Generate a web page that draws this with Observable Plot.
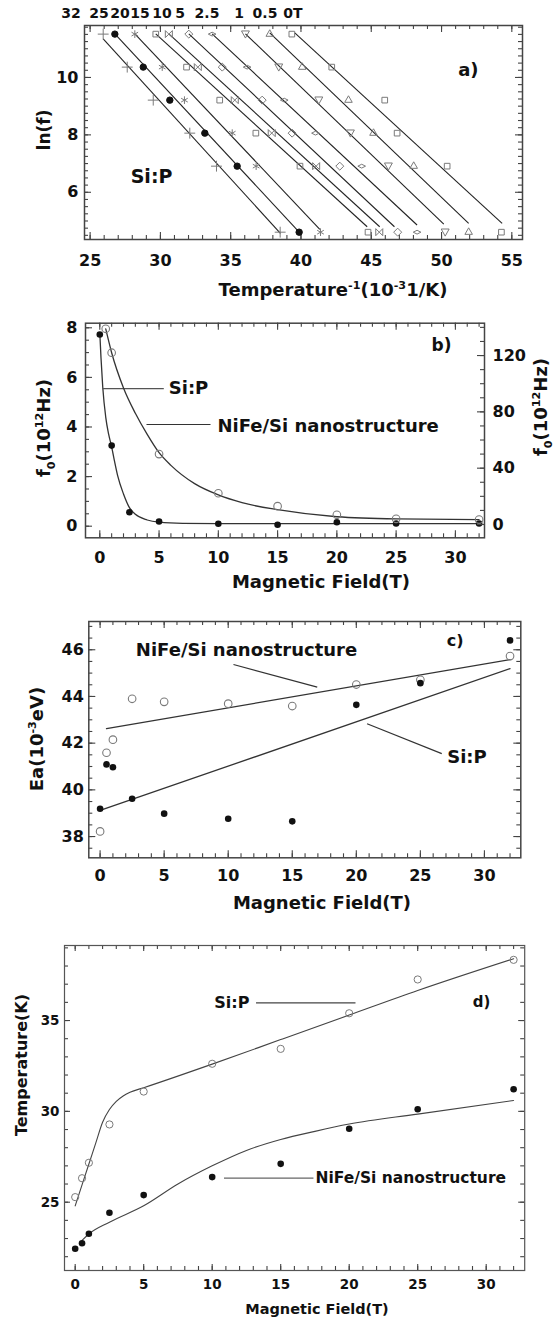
<!DOCTYPE html>
<html><head><meta charset="utf-8">
<script src="https://cdn.jsdelivr.net/npm/d3@7"></script>
<script src="https://cdn.jsdelivr.net/npm/@observablehq/plot@0.6"></script>
<style>
html,body{margin:0;padding:0;background:#fff;}
#fig{position:relative;width:555px;height:1322px;overflow:hidden;background:#fff;font-family:'DejaVu Sans',sans-serif;font-weight:bold;color:#111;}
#fig svg{position:absolute;left:0;}
.lbl{position:absolute;white-space:nowrap;transform:translate(-50%,-50%);line-height:1;}
.rot{transform:translate(-50%,-50%) rotate(-90deg);}
sup,sub{font-size:0.62em;line-height:0;}
</style></head><body><div id="fig"></div><script>
// ---------------- DATA ----------------
// Panel a) : ln(f) vs 1/T for each magnetic field
const fieldsA = ["32","25","20","15","10","5","2.5","1","0.5","0T"];
const lnF = [11.51, 10.36, 9.21, 8.06, 6.91, 4.61];
const invT_32  = [25.93, 27.64, 29.49, 32.09, 33.99, 38.52];
const invT_25  = [26.76, 28.78, 30.67, 33.16, 35.46, 39.87];
const invT_20  = [28.18, 30.13, 31.71, 35.11, 36.81, 41.39];
const invT_15  = [29.67, 31.86, 34.22, 36.79, 39.93, 44.77];
const invT_10  = [30.60, 32.66, 35.29, 37.92, 41.08, 45.57];
const invT_5   = [32.02, 34.40, 37.24, 39.37, 42.76, 46.88];
const invT_2p5 = [33.68, 36.17, 38.81, 41.03, 44.32, 48.26];
const invT_1   = [36.05, 38.42, 41.27, 43.52, 46.22, 50.26];
const invT_0p5 = [37.78, 40.09, 43.38, 45.16, 48.02, 51.93];
const invT_0   = [39.35, 42.19, 45.96, 46.84, 50.40, 54.26];
// fitted straight lines (top end / bottom end)
const fitA_x1 = [25.93, 26.76, 28.18, 29.67, 30.60, 32.02, 33.68, 36.05, 37.78, 39.56];
const fitA_y1 = [11.34, 11.52, 11.52, 11.52, 11.52, 11.52, 11.52, 11.52, 11.55, 11.55];
const fitA_x2 = [38.54, 39.84, 41.34, 44.71, 45.60, 46.65, 48.26, 50.16, 51.93, 54.31];
const fitA_y2 = [4.57, 4.63, 4.71, 4.80, 4.80, 4.80, 4.86, 4.89, 4.92, 4.92];
const axisA_x = [25, 30, 35, 40, 45, 50, 55];
const axisA_y = [6, 8, 10];

// Panel b) : f0 vs magnetic field
const fieldB_SiP = [0, 1, 2.5, 5, 10, 15, 20, 25, 32];
const f0_SiP     = [7.73, 3.25, 0.56, 0.19, 0.10, 0.06, 0.16, 0.11, 0.11];
const fieldB_NiFe = [0.5, 1, 5, 10, 15, 20, 25, 32];
const f0_NiFe     = [139, 122, 50, 22.2, 13, 6.9, 4.0, 3.5];
const curveB_SiP_x = [0, 0.1, 0.25, 0.5, 0.75, 1, 1.25, 1.5, 2, 2.5, 3, 4, 5, 7, 10, 32];
const curveB_SiP_y = [7.8, 6.8, 5.6, 4.4, 3.7, 3.2, 2.6, 2.05, 1.3, 0.75, 0.48, 0.25, 0.16, 0.11, 0.10, 0.10];
const curveB_NiFe_x = [0.5, 1, 2, 3, 4, 5, 6, 8, 10, 12, 15, 20, 25, 32];
const curveB_NiFe_y = [139, 122, 97, 79, 64, 51, 42, 29, 21, 15.5, 10.5, 5.5, 4.0, 3.5];
const axisB_x = [0, 5, 10, 15, 20, 25, 30];
const axisB_yLeft = [0, 2, 4, 6, 8];
const axisB_yRight = [0, 40, 80, 120];

// Panel c) : activation energy vs magnetic field
const fieldC = [0, 0.5, 1, 2.5, 5, 10, 15, 20, 25, 32];
const Ea_NiFe = [38.22, 41.59, 42.15, 43.90, 43.77, 43.69, 43.59, 44.51, 44.71, 45.73];
const Ea_SiP  = [39.19, 41.09, 40.97, 39.62, 38.98, 38.76, 38.65, 43.64, 44.57, 46.40];
const fitC_NiFe_x = [0.5, 32], fitC_NiFe_y = [42.62, 45.58];
const fitC_SiP_x  = [0, 32],   fitC_SiP_y  = [39.12, 45.19];
const axisC_x = [0, 5, 10, 15, 20, 25, 30];
const axisC_y = [38, 40, 42, 44, 46];

// Panel d) : temperature vs magnetic field
const fieldD = [0, 0.5, 1, 2.5, 5, 10, 15, 20, 25, 32];
const T_SiP  = [25.28, 26.32, 27.17, 29.28, 31.09, 32.62, 33.44, 35.40, 37.26, 38.34];
const T_NiFe = [22.44, 22.74, 23.26, 24.42, 25.39, 26.38, 27.11, 29.04, 30.12, 31.22];
const curveD_SiP_x = [0, 0.5, 1, 1.5, 2, 2.5, 3, 3.5, 4, 5, 10, 15, 20, 25, 32];
const curveD_SiP_y = [24.8, 25.95, 27.1, 28.25, 29.4, 30.1, 30.55, 30.85, 31.05, 31.3, 32.6, 33.95, 35.3, 36.65, 38.4];
const curveD_NiFe_x = [0.5, 1, 2.5, 5, 7.5, 10, 12.5, 15, 17.5, 20, 25, 32];
const curveD_NiFe_y = [22.9, 23.25, 23.9, 24.8, 26.0, 27.0, 27.85, 28.45, 28.9, 29.3, 29.85, 30.6];
const axisD_x = [0, 5, 10, 15, 20, 25, 30];
const axisD_y = [25, 30, 35];

// ---------------- HELPERS ----------------
const fig = document.getElementById("fig");
const zip = (xs, ys) => xs.map((x, i) => ({x, y: ys[i]}));
const rng = (a, b, s) => d3.range(a, b + s / 2, s);
const FONT = "'DejaVu Sans', sans-serif";
const DARK = "#333", GREY = "#7a7a7a";

function ticks({xMaj, xMin, yMaj, yMin, W, H, left = true, right = true, xAxis = true, maj = 7, mn = 4}) {
  const s = {stroke: "#444", strokeWidth: 1.1};
  const m = [];
  if (xAxis) for (const [v, L] of [[xMaj, maj], [xMin, mn]]) {
    m.push(Plot.tickX(v, {x: d => d, insetTop: H - L, ...s}));
    m.push(Plot.tickX(v, {x: d => d, insetBottom: H - L, ...s}));
  }
  for (const [v, L] of [[yMaj, maj], [yMin, mn]]) {
    if (left) m.push(Plot.tickY(v, {y: d => d, insetRight: W - L, ...s}));
    if (right) m.push(Plot.tickY(v, {y: d => d, insetLeft: W - L, ...s}));
  }
  return m;
}
function place(svg, top) { svg.style.top = top + "px"; fig.appendChild(svg); }
function label(html, x, y, size, rot = false) {
  const d = document.createElement("div");
  d.className = "lbl" + (rot ? " rot" : "");
  d.style.left = x + "px"; d.style.top = y + "px"; d.style.fontSize = size + "px";
  d.innerHTML = html; fig.appendChild(d);
}
const txt = (t, x, y, size, anchor = "middle") =>
  Plot.text([t], {x: () => x, y: () => y, text: d => d, fontSize: size, fontWeight: "bold", fontFamily: FONT, textAnchor: anchor, fill: "#111"});
const leader = (x1, y1, x2, y2, stroke = DARK) =>
  Plot.link([0], {x1: () => x1, y1: () => y1, x2: () => x2, y2: () => y2, stroke, strokeWidth: 1.2});

// ---------------- PANEL a ----------------
{
  const M = {top: 25, bottom: 61, left: 84, right: 33}, Wd = 555, Ht = 300;
  const W = Wd - M.left - M.right, H = Ht - M.top - M.bottom;
  const invT = [invT_32, invT_25, invT_20, invT_15, invT_10, invT_5, invT_2p5, invT_1, invT_0p5, invT_0];
  const rows = fieldsA.flatMap((f, i) => invT[i].map((x, j) => ({field: f, x, y: lnF[j]})));
  const fits = fieldsA.map((f, i) => ({x1: fitA_x1[i], y1: fitA_y1[i], x2: fitA_x2[i], y2: fitA_y2[i]}));
  const bowtie = {draw(c, size) {const s = Math.sqrt(size) * 0.55; c.moveTo(-s, -s); c.lineTo(s, s); c.lineTo(s, -s); c.lineTo(-s, s); c.closePath();}};
  const triDown = {draw(c, size) {const s = Math.sqrt(size) * 0.62; c.moveTo(-s, -s * 0.8); c.lineTo(s, -s * 0.8); c.lineTo(0, s); c.closePath();}};
  const flatDia = {draw(c, size) {const s = Math.sqrt(size) * 0.6; c.moveTo(-s, 0); c.lineTo(0, -s * 0.5); c.lineTo(s, 0); c.lineTo(0, s * 0.5); c.closePath();}};
  const sym = {"32": "plus", "25": "circle", "20": "asterisk", "15": "square2", "10": bowtie, "5": "diamond2",
               "2.5": flatDia, "1": triDown, "0.5": "triangle2", "0T": "square2"};
  const dots = fieldsA.map(f => Plot.dot(rows.filter(r => r.field === f), {
    x: "x", y: "y", symbol: sym[f], r: f === "25" ? 3.2 : 3.6,
    fill: f === "25" ? "#111" : "none", stroke: f === "25" ? "#111" : GREY, strokeWidth: 1
  }));
  const svg = Plot.plot({
    width: Wd, height: Ht, marginTop: M.top, marginBottom: M.bottom, marginLeft: M.left, marginRight: M.right,
    style: {fontFamily: FONT, fontWeight: "bold", background: "white"},
    x: {domain: [24.6, 55.76]}, y: {domain: [4.355, 11.81]},
    marks: [
      ...ticks({xMaj: axisA_x, xMin: rng(25, 55, 1), yMaj: axisA_y, yMin: rng(4.5, 11.75, 0.25), W, H}),
      Plot.link(fits, {x1: "x1", y1: "y1", x2: "x2", y2: "y2", stroke: "#222", strokeWidth: 1.1}),
      ...dots,
      Plot.frame({stroke: "#444", strokeWidth: 1.5}),
      Plot.axisX(axisA_x, {tickSize: 0, tickPadding: 15, fontSize: 16, label: null}),
      Plot.axisY(axisA_y, {tickSize: 0, tickPadding: 6, fontSize: 16, label: null}),
      txt("Si:P", 29.37, 6.53, 19),
      txt("a)", 51.91, 10.24, 18)
    ]
  });
  place(svg, 0);
  const topX = [71, 99, 120, 140, 162, 180, 207, 239, 265, 293];
  fieldsA.forEach((f, i) => label(f, topX[i], 13, 14));
  label("ln(f)", 44, 130, 17, true);
  label("Temperature<sup>-1</sup>(10<sup>-3</sup>1/K)", 333, 290, 18);
}

// ---------------- PANEL b ----------------
{
  const M = {top: 22.7, bottom: 62.7, left: 85, right: 71}, Wd = 555, Ht = 300;
  const W = Wd - M.left - M.right, H = Ht - M.top - M.bottom;
  const xDom = [-1.206, 32.456];
  const common = {width: Wd, height: Ht, marginTop: M.top, marginBottom: M.bottom, marginLeft: M.left, marginRight: M.right};
  const left = Plot.plot({
    ...common, style: {fontFamily: FONT, fontWeight: "bold", background: "white"},
    x: {domain: xDom}, y: {domain: [-0.468, 8.185]},
    marks: [
      ...ticks({xMaj: axisB_x, xMin: rng(0, 32, 1), yMaj: axisB_yLeft, yMin: rng(0, 8, 0.5), W, H, right: false}),
      Plot.line(zip(curveB_SiP_x, curveB_SiP_y), {x: "x", y: "y", curve: "monotone-x", stroke: DARK, strokeWidth: 1.3}),
      Plot.dot(zip(fieldB_SiP, f0_SiP), {x: "x", y: "y", r: 3.3, fill: "#111"}),
      Plot.frame({stroke: "#444", strokeWidth: 1.5}),
      Plot.axisX(axisB_x, {tickSize: 0, tickPadding: 13.5, fontSize: 16, label: null}),
      Plot.axisY(axisB_yLeft, {tickSize: 0, tickPadding: 8, fontSize: 16, label: null}),
      leader(0.2, 5.55, 5.4, 5.55, "#555"),
      txt("Si:P", 5.82, 5.55, 18, "start"),
      leader(3.94, 4.1, 9.34, 4.1),
      txt("NiFe/Si nanostructure", 9.93, 4.03, 18, "start"),
      txt("b)", 28.83, 7.29, 17)
    ]
  });
  place(left, 300);
  const right = Plot.plot({
    ...common, style: {fontFamily: FONT, fontWeight: "bold", background: "transparent"},
    x: {domain: xDom, axis: null}, y: {domain: [-9.45, 142.97]},
    marks: [
      ...ticks({xMaj: [], xMin: [], yMaj: axisB_yRight, yMin: rng(0, 140, 10), W, H, left: false, xAxis: false}),
      Plot.line(zip(curveB_NiFe_x, curveB_NiFe_y), {x: "x", y: "y", curve: "monotone-x", stroke: DARK, strokeWidth: 1.3}),
      Plot.dot(zip(fieldB_NiFe, f0_NiFe), {x: "x", y: "y", r: 3.8, fill: "none", stroke: GREY, strokeWidth: 1.1}),
      Plot.axisY(axisB_yRight, {anchor: "right", tickSize: 0, tickPadding: 8, fontSize: 16, label: null})
    ]
  });
  place(right, 300);
  label("f<sub>0</sub>(10<sup>12</sup>Hz)", 44, 428, 18, true);
  label("f<sub>0</sub>(10<sup>12</sup>Hz)", 541, 407, 18, true);
  label("Magnetic Field(T)", 321, 582, 18);
}

// ---------------- PANEL c ----------------
{
  const M = {top: 21, bottom: 62.7, left: 88.3, right: 34.7}, Wd = 555, Ht = 320;
  const W = Wd - M.left - M.right, H = Ht - M.top - M.bottom;
  const svg = Plot.plot({
    width: Wd, height: Ht, marginTop: M.top, marginBottom: M.bottom, marginLeft: M.left, marginRight: M.right,
    style: {fontFamily: FONT, fontWeight: "bold", background: "white"},
    x: {domain: [-0.882, 32.84]}, y: {domain: [37.09, 47.21]},
    marks: [
      ...ticks({xMaj: axisC_x, xMin: rng(0, 32, 1), yMaj: axisC_y, yMin: rng(37.5, 47, 0.5), W, H}),
      Plot.line(zip(fitC_NiFe_x, fitC_NiFe_y), {x: "x", y: "y", stroke: DARK, strokeWidth: 1.3}),
      Plot.line(zip(fitC_SiP_x, fitC_SiP_y), {x: "x", y: "y", stroke: DARK, strokeWidth: 1.3}),
      Plot.dot(zip(fieldC, Ea_NiFe), {x: "x", y: "y", r: 3.8, fill: "none", stroke: GREY, strokeWidth: 1.1}),
      Plot.dot(zip(fieldC, Ea_SiP), {x: "x", y: "y", r: 3.3, fill: "#111"}),
      Plot.frame({stroke: "#444", strokeWidth: 1.5}),
      Plot.axisX(axisC_x, {tickSize: 0, tickPadding: 12, fontSize: 16, label: null}),
      Plot.axisY(axisC_y, {tickSize: 0, tickPadding: 5, fontSize: 16, label: null}),
      txt("NiFe/Si nanostructure", 11.43, 46.0, 18),
      leader(10.41, 45.37, 16.95, 44.4),
      txt("Si:P", 28.64, 41.4, 18),
      leader(20.84, 42.83, 26.67, 41.55),
      txt("c)", 27.71, 46.4, 16)
    ]
  });
  place(svg, 600);
  label("Ea(10<sup>-3</sup>eV)", 37, 739, 18, true);
  label("Magnetic Field(T)", 322, 903, 18);
}

// ---------------- PANEL d ----------------
{
  const M = {top: 25, bottom: 52, left: 64, right: 30.8}, Wd = 555, Ht = 402;
  const W = Wd - M.left - M.right, H = Ht - M.top - M.bottom;
  const svg = Plot.plot({
    width: Wd, height: Ht, marginTop: M.top, marginBottom: M.bottom, marginLeft: M.left, marginRight: M.right,
    style: {fontFamily: FONT, fontWeight: "bold", background: "white"},
    x: {domain: [-0.78, 32.81]}, y: {domain: [21.24, 39.13]},
    marks: [
      ...ticks({xMaj: axisD_x, xMin: rng(0, 32, 1), yMaj: axisD_y, yMin: rng(22, 39, 1), W, H, maj: 6, mn: 4}),
      Plot.line(zip(curveD_SiP_x, curveD_SiP_y), {x: "x", y: "y", curve: "monotone-x", stroke: "#444", strokeWidth: 1.1}),
      Plot.line(zip(curveD_NiFe_x, curveD_NiFe_y), {x: "x", y: "y", curve: "monotone-x", stroke: "#444", strokeWidth: 1.1}),
      Plot.dot(zip(fieldD, T_SiP), {x: "x", y: "y", r: 3.6, fill: "none", stroke: GREY, strokeWidth: 1}),
      Plot.dot(zip(fieldD, T_NiFe), {x: "x", y: "y", r: 3.3, fill: "#111"}),
      Plot.frame({stroke: "#555", strokeWidth: 1.2}),
      Plot.axisX(axisD_x, {tickSize: 0, tickPadding: 8.5, fontSize: 13.5, label: null}),
      Plot.axisY(axisD_y, {tickSize: 0, tickPadding: 5, fontSize: 13.5, label: null}),
      txt("Si:P", 11.43, 35.95, 16),
      leader(13.2, 35.97, 20.46, 35.97, "#444"),
      txt("d)", 29.66, 35.99, 15),
      leader(10.86, 26.32, 17.39, 26.32, "#666"),
      txt("NiFe/Si nanostructure", 17.54, 26.32, 15.5, "start")
    ]
  });
  place(svg, 920);
  label("Temperature(K)", 22, 1065, 16, true);
  label("Magnetic Field(T)", 317, 1309, 14.5);
}
</script></body></html>
